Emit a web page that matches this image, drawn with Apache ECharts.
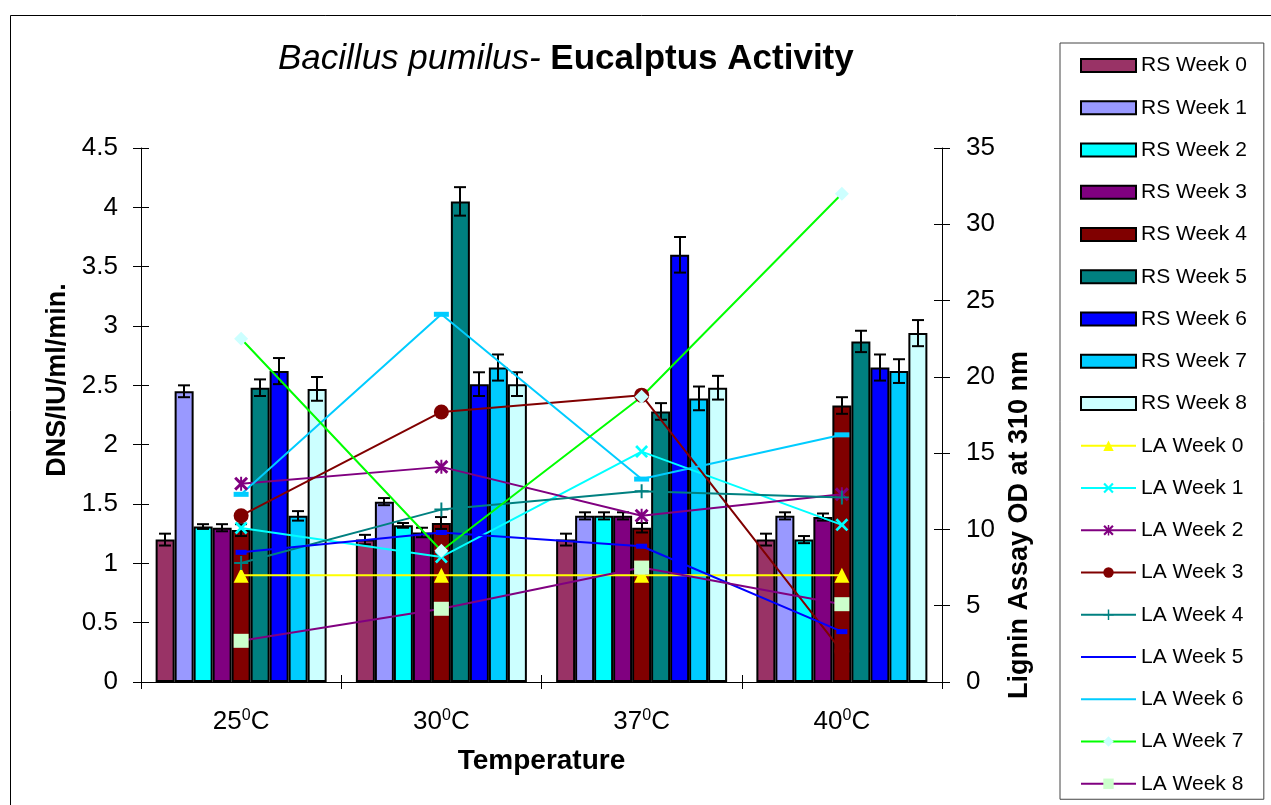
<!DOCTYPE html>
<html>
<head>
<meta charset="utf-8">
<script src="https://cdn.jsdelivr.net/npm/echarts@6/dist/echarts.min.js"></script>
<style>
html,body{margin:0;padding:0;background:#fff;}
#chart{width:1271px;height:805px;}
</style>
</head>
<body>
<div id="chart"></div>
<script>
// ---- data ----
const categories = ['25', '30', '37', '40'];
const leftTicks = [0, 0.5, 1, 1.5, 2, 2.5, 3, 3.5, 4, 4.5];
const rightTicks = [0, 5, 10, 15, 20, 25, 30, 35];

const rsWeek0 = [1.20, 1.20, 1.20, 1.20];
const rsWeek1 = [2.45, 1.52, 1.40, 1.40];
const rsWeek2 = [1.31, 1.32, 1.40, 1.20];
const rsWeek3 = [1.30, 1.26, 1.40, 1.39];
const rsWeek4 = [1.28, 1.34, 1.30, 2.33];
const rsWeek5 = [2.48, 4.05, 2.28, 2.87];
const rsWeek6 = [2.62, 2.51, 3.60, 2.65];
const rsWeek7 = [1.40, 2.65, 2.39, 2.62];
const rsWeek8 = [2.47, 2.51, 2.48, 2.94];

const rsErr0 = [0.05, 0.04, 0.05, 0.05];
const rsErr1 = [0.05, 0.03, 0.03, 0.03];
const rsErr2 = [0.02, 0.02, 0.03, 0.03];
const rsErr3 = [0.03, 0.04, 0.03, 0.03];
const rsErr4 = [0.05, 0.05, 0.04, 0.07];
const rsErr5 = [0.07, 0.12, 0.07, 0.09];
const rsErr6 = [0.11, 0.10, 0.15, 0.11];
const rsErr7 = [0.04, 0.11, 0.10, 0.10];
const rsErr8 = [0.10, 0.10, 0.10, 0.11];

const laWeek0 = [7.0, 7.0, 7.0, 7.0];
const laWeek1 = [10.1, 8.2, 15.1, 10.3];
const laWeek2 = [13.0, 14.1, 10.9, 12.3];
const laWeek3 = [10.9, 17.7, 18.8, 2.0];
const laWeek4 = [7.8, 11.3, 12.5, 12.1];
const laWeek5 = [8.5, 9.8, 8.9, 3.3];
const laWeek6 = [12.3, 24.1, 13.3, 16.2];
const laWeek7 = [22.5, 8.6, 18.7, 32.0];
const laWeek8 = [2.7, 4.8, 7.5, 5.1];

// ---- styling ----
const FONT = 'Arial, "Liberation Sans", Helvetica, sans-serif';
const BW = 19;
const rsNames = ['RS Week 0','RS Week 1','RS Week 2','RS Week 3','RS Week 4','RS Week 5','RS Week 6','RS Week 7','RS Week 8'];
const rsData = [rsWeek0,rsWeek1,rsWeek2,rsWeek3,rsWeek4,rsWeek5,rsWeek6,rsWeek7,rsWeek8];
const rsErr = [rsErr0,rsErr1,rsErr2,rsErr3,rsErr4,rsErr5,rsErr6,rsErr7,rsErr8];
const rsColors = ['#993366','#9999FF','#00FFFF','#800080','#800000','#008080','#0000FF','#00CCFF','#CCFFFF'];

const laNames = ['LA Week 0','LA Week 1','LA Week 2','LA Week 3','LA Week 4','LA Week 5','LA Week 6','LA Week 7','LA Week 8'];
const laData = [laWeek0,laWeek1,laWeek2,laWeek3,laWeek4,laWeek5,laWeek6,laWeek7,laWeek8];
const laLine = ['#FFFF00','#00FFFF','#800080','#800000','#008080','#0000FF','#00CCFF','#00FF00','#800080'];
const laMarkColor = ['#FFFF00','#00FFFF','#800080','#800000','#008080','#0000FF','#00CCFF','#CCFFFF','#CCFFCC'];
const X_PATH = 'path://M0,1.5L1.5,0L5,3.5L8.5,0L10,1.5L6.5,5L10,8.5L8.5,10L5,6.5L1.5,10L0,8.5L3.5,5Z';
const AST_PATH = 'path://M0,1.5L1.5,0L5,3.5L8.5,0L10,1.5L6.5,5L10,8.5L8.5,10L5,6.5L1.5,10L0,8.5L3.5,5Z M4.3,0H5.7V10H4.3Z';
const PLUS_PATH = 'path://M4.3,0H5.7V4.3H10V5.7H5.7V10H4.3V5.7H0V4.3H4.3Z';
const laSymbols = ['triangle', X_PATH, AST_PATH, 'circle', PLUS_PATH, 'rect', 'rect', 'diamond', 'rect'];
const laSizes = [15, 13, 14, 15, 14, [11,5], [15,5], 14, [15,14]];

const series = [];
rsNames.forEach((n,i)=>{
  series.push({
    name:n, type:'bar', yAxisIndex:0, xAxisIndex:0,
    data: rsData[i], barWidth: BW, barGap:'0%',
    itemStyle:{color:rsColors[i], borderColor:'#000', borderWidth:2},
    emphasis:{disabled:true}
  });
});
const errItems = [];
rsData.forEach((arr,i)=>arr.forEach((v,c)=>errItems.push([c, i, v, rsErr[i][c]])));
series.push({
  type:'custom', name:'err', yAxisIndex:0, xAxisIndex:0, z:3,
  encode:{x:0, y:2},
  data: errItems,
  renderItem:function(params, api){
    const c = api.value(0), k = api.value(1), v = api.value(2), e = api.value(3);
    const p = api.coord([c, v]);
    const x = Math.round(p[0] + (k-4)*BW);
    const hi = api.coord([c, v+e])[1];
    const lo = api.coord([c, v-e])[1];
    const st = {stroke:'#000', lineWidth:2};
    return {type:'group', children:[
      {type:'line', shape:{x1:x, y1:hi, x2:x, y2:lo}, style:st},
      {type:'line', shape:{x1:x-6, y1:hi, x2:x+6, y2:hi}, style:st},
      {type:'line', shape:{x1:x-6, y1:lo, x2:x+6, y2:lo}, style:st}
    ]};
  },
  silent:true
});
laNames.forEach((n,i)=>{
  series.push({
    name:n, type:'line', yAxisIndex:1, xAxisIndex:0, z:4,
    data: laData[i],
    symbol: laSymbols[i], symbolSize: laSizes[i], showSymbol:true,
    itemStyle:{color:laMarkColor[i]},
    lineStyle:{color:laLine[i], width:2},
    emphasis:{disabled:true}
  });
});

const legendData = rsNames.map(n=>({name:n, icon:'rect'})).concat(
  laNames.map((n,i)=> (i===5||i===6) ? {name:n, itemStyle:{color:'rgba(0,0,0,0)', borderWidth:0}} : {name:n}));

const tickStyle = {fontSize:26, fontFamily:FONT, color:'#000'};
const axisLineStyle = {lineStyle:{color:'#000', width:1}};

const option = {
  animation:false,
  backgroundColor:'#fff',
  title:{
    text:'{i|Bacillus pumilus-} {b|Eucalptus Activity}',
    left:273, top:37,
    textStyle:{fontSize:35, fontFamily:FONT, color:'#000',
      rich:{
        i:{fontStyle:'italic', fontWeight:'normal', fontSize:35, fontFamily:FONT, color:'#000'},
        b:{fontWeight:'bold', fontSize:35, fontFamily:FONT, color:'#000'}
      }}
  },
  legend:{
    orient:'vertical', left:1060, top:43, height:750,
    padding:[12, 17, 5, 20],
    itemGap:21.25, itemWidth:55, itemHeight:13,
    borderColor:'#444', borderWidth:1,
    textStyle:{fontSize:21, fontFamily:FONT, color:'#000', lineHeight:21},
    data: legendData,
    selectedMode:false
  },
  grid:{left:141, top:148, width:801, height:534, containLabel:false},
  xAxis:[{
    type:'category', data:categories, position:'bottom',
    axisLine:axisLineStyle,
    axisTick:{show:true, length:7, lineStyle:{color:'#000'}},
    axisLabel:{margin:26, formatter:(v)=>v+'{s|0}C',
      fontSize:26, fontFamily:FONT, color:'#000', lineHeight:28,
      rich:{s:{fontSize:16, fontFamily:FONT, color:'#000', verticalAlign:'top', lineHeight:28}}},
    name:'Temperature', nameLocation:'middle', nameGap:65,
    nameTextStyle:{fontSize:28, fontWeight:'bold', fontFamily:FONT, color:'#000'}
  },{
    type:'category', data:categories, position:'bottom',
    axisLine:{show:false}, axisLabel:{show:false},
    axisTick:{show:true, inside:true, length:7, lineStyle:{color:'#000'}}
  }],
  yAxis:[{
    type:'value', position:'left', min:0, max:4.5, interval:0.5,
    axisLine:{show:true, lineStyle:{color:'#000'}},
    axisTick:{show:true, length:8, lineStyle:{color:'#000'}},
    axisLabel:Object.assign({margin:23}, tickStyle),
    splitLine:{show:false},
    name:'DNS/IU/ml/min.', nameLocation:'middle', nameGap:67, nameRotate:90,
    nameTextStyle:{fontSize:27, fontWeight:'bold', fontFamily:FONT, color:'#000', padding:[0,0,0,70]}
  },{
    type:'value', position:'right', min:0, max:35, interval:5,
    axisLine:{show:true, lineStyle:{color:'#000'}},
    axisTick:{show:true, length:8, lineStyle:{color:'#000'}},
    axisLabel:Object.assign({margin:24}, tickStyle),
    splitLine:{show:false},
    name:'Lignin Assay OD at 310 nm', nameLocation:'middle', nameGap:63, nameRotate:90,
    nameTextStyle:{fontSize:27, fontWeight:'bold', fontFamily:FONT, color:'#000', padding:[0,220,0,0]}
  },{
    type:'value', position:'left', min:0, max:4.5, interval:0.5,
    axisLine:{show:false}, axisLabel:{show:false}, splitLine:{show:false},
    axisTick:{show:true, inside:true, length:8, lineStyle:{color:'#000'}}
  },{
    type:'value', position:'right', min:0, max:35, interval:5,
    axisLine:{show:false}, axisLabel:{show:false}, splitLine:{show:false},
    axisTick:{show:true, inside:true, length:8, lineStyle:{color:'#000'}}
  }],
  graphic:[{
    type:'rect', silent:true, z:-10,
    shape:{x:10.5, y:15.5, width:1300, height:900},
    style:{fill:'none', stroke:'#000', lineWidth:1}
  }],
  series: series
};
const chart = echarts.init(document.getElementById('chart'), null, {renderer:'canvas'});
chart.setOption(option);
</script>
</body>
</html>
